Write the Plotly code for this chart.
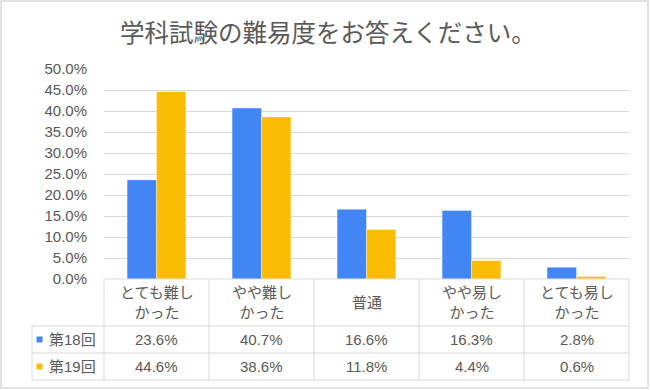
import plotly.graph_objects as go

title = "学科試験の難易度をお答えください。"
categories = ["とても難し<br>かった", "やや難し<br>かった", "普通", "やや易し<br>かった", "とても易し<br>かった"]
series_names = ["第18回", "第19回"]
values_18 = [23.6, 40.7, 16.6, 16.3, 2.8]
values_19 = [44.6, 38.6, 11.8, 4.4, 0.6]
colors = ["#4285F4", "#FBBC04"]

W, H = 650, 390
L, R, T, B = 104, 629, 69, 279  # plot area in pixels
PW, PH = R - L, B - T

def px(x):
    return (x - L) / PW

def py(y):
    return (B - y) / PH

FONT = "Liberation Sans, Arial, Noto Sans CJK JP, sans-serif"
TXT = "#595959"
GRID = "#d9d9d9"

fig = go.Figure()
xs = list(range(len(categories)))
for name, vals, col in zip(series_names, [values_18, values_19], colors):
    fig.add_trace(go.Bar(x=xs, y=[v / 100 for v in vals], name=name,
                         marker=dict(color=col, line=dict(width=0.6, color="rgba(255,255,255,0.6)")),
                         hoverinfo="skip"))

shapes = []
def line(x0, y0, x1, y1, color=GRID, w=1):
    shapes.append(dict(type="line", xref="paper", yref="paper",
                       x0=px(x0), y0=py(y0), x1=px(x1), y1=py(y1),
                       line=dict(color=color, width=w), layer="above"))

# table grid
row_y = [279, 326, 353, 380]
col_x = [104, 209, 314, 419, 524, 629]
line(104, 279, 629, 279)
for y in row_y[1:]:
    line(32, y, 629, y)
line(32, 326, 32, 380)
for x in col_x:
    line(x, 279, x, 380)

# outer frame
shapes.append(dict(type="rect", xref="paper", yref="paper",
                   x0=px(1), y0=py(1), x1=px(648), y1=py(388),
                   line=dict(color=GRID, width=1.5), fillcolor="rgba(0,0,0,0)", layer="below"))

annotations = []
# header labels
for i, c in enumerate(categories):
    annotations.append(dict(x=i, xref="x", y=py(302.5), yref="paper", text=c,
                            showarrow=False, xanchor="center", yanchor="middle",
                            font=dict(family=FONT, size=15, color=TXT), align="center"))
# data rows
for r, (name, vals, col) in enumerate(zip(series_names, [values_18, values_19], colors)):
    yc = (row_y[r + 1] + row_y[r + 2]) / 2
    for i, v in enumerate(vals):
        annotations.append(dict(x=i, xref="x", y=py(yc), yref="paper", text=f"{v:.1f}%",
                                showarrow=False, xanchor="center", yanchor="middle",
                                font=dict(family=FONT, size=15, color=TXT)))
    annotations.append(dict(x=px(47), xref="paper", y=py(yc), yref="paper", text=name,
                            showarrow=False, xanchor="left", yanchor="middle",
                            font=dict(family=FONT, size=15, color=TXT)))
    shapes.append(dict(type="rect", xref="paper", yref="paper",
                       x0=px(36.5), x1=px(42.5), y0=py(yc - 3), y1=py(yc + 3),
                       line=dict(width=0), fillcolor=col, layer="above"))

fig.update_layout(
    width=W, height=H,
    margin=dict(l=L, r=W - R, t=T, b=H - B, autoexpand=False),
    paper_bgcolor="white", plot_bgcolor="white",
    title=dict(text=title, x=328 / W, xanchor="center", y=1 - 33 / H, yanchor="middle",
               font=dict(family="Noto Sans CJK JP, sans-serif", size=24.5, color=TXT)),
    barmode="group", bargap=0.44, bargroupgap=0,
    showlegend=False,
    xaxis=dict(range=[-0.5, 4.5], showticklabels=False, showgrid=False, zeroline=False,
               showline=False, fixedrange=True),
    yaxis=dict(range=[0, 0.5], dtick=0.05, tickformat=".1%", showgrid=True, gridcolor=GRID,
               gridwidth=1, zeroline=False, showline=False, ticks="outside", ticklen=13,
               tickcolor="rgba(0,0,0,0)", tickfont=dict(family=FONT, size=15, color=TXT)),
    shapes=shapes, annotations=annotations,
)

fig.write_html("out.html", config={"displayModeBar": False},
               post_script="document.body.style.margin='0';document.body.style.padding='0';")
